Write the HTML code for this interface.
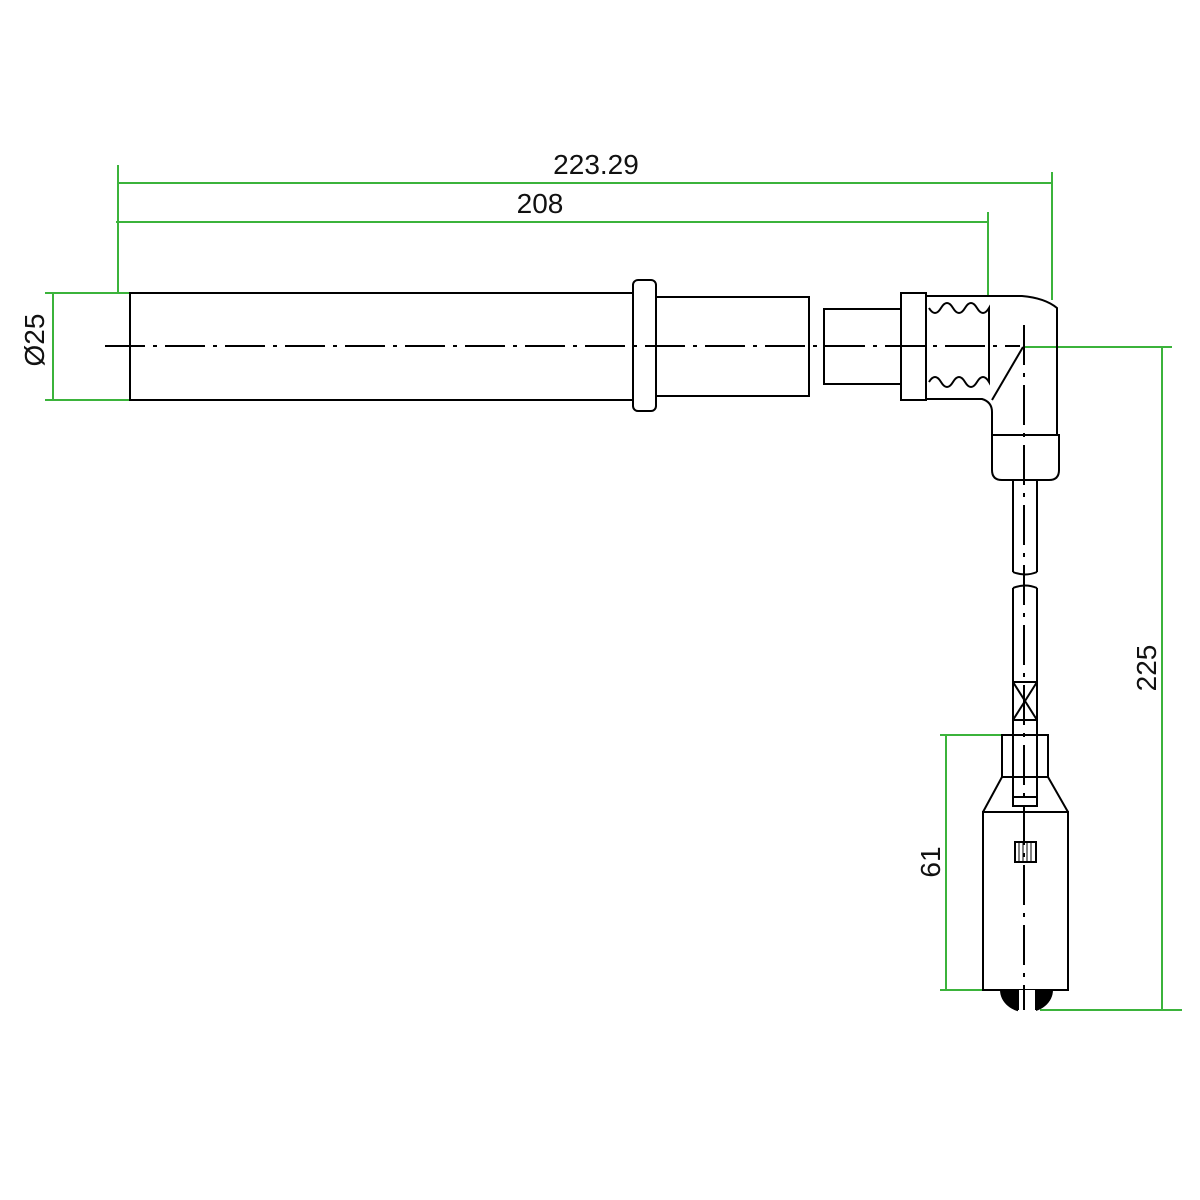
<!DOCTYPE html>
<html><head><meta charset="utf-8"><style>html,body{margin:0;padding:0;background:#fff}svg{display:block}</style></head>
<body>
<svg width="1200" height="1200" viewBox="0 0 1200 1200" xmlns="http://www.w3.org/2000/svg">
<g stroke="#3bb33b" stroke-width="2" fill="none">
<line x1="118" y1="165" x2="118" y2="293"/>
<line x1="1052" y1="172" x2="1052" y2="300"/>
<line x1="118" y1="183" x2="1052" y2="183"/>
<line x1="116" y1="222" x2="988" y2="222"/>
<line x1="988" y1="212" x2="988" y2="296"/>
<line x1="53" y1="293" x2="53" y2="400"/>
<line x1="45" y1="293" x2="130" y2="293"/>
<line x1="45" y1="400" x2="130" y2="400"/>
<line x1="1162" y1="347" x2="1162" y2="1010"/>
<line x1="1025" y1="347" x2="1172" y2="347"/>
<line x1="1040" y1="1010" x2="1182" y2="1010"/>
<line x1="946" y1="735" x2="946" y2="990"/>
<line x1="940" y1="735" x2="1002" y2="735"/>
<line x1="940" y1="990" x2="983" y2="990"/>
</g>
<g font-family="Liberation Sans, sans-serif" font-size="28" fill="#111" text-anchor="middle">
<text x="596" y="174">223.29</text>
<text x="540" y="213">208</text>
<text transform="translate(44,340) rotate(-90)">Ø25</text>
<text transform="translate(1156,668) rotate(-90)">225</text>
<text transform="translate(940,862) rotate(-90)">61</text>
</g>
<g stroke="#000" stroke-width="2" fill="none">
<rect x="130" y="293" width="503" height="107"/>
<rect x="633" y="280" width="23" height="131" rx="5" fill="#fff"/>
<rect x="656" y="297" width="153" height="99"/>
<rect x="824" y="309" width="77" height="75"/>
<rect x="901" y="293" width="25" height="107"/>
<path d="M926 296 H1022 Q1045 298 1057 308 V435"/>
<path d="M926 399 H982 Q992 402 992 412 V435"/>
<path d="M992 400 L1023 347"/>
<path d="M929 308 q6 10 12 0 q6 -10 12 0 q6 10 12 0 q6 -10 12 0 q6 10 12 0 V382 q-6 -10 -12 0 q-6 10 -12 0 q-6 -10 -12 0 q-6 10 -12 0 q-6 -10 -12 0"/>
<path d="M992 435 H1059 V470 Q1059 480 1049 480 H1002 Q992 480 992 470 Z"/>
<line x1="1013" y1="480" x2="1013" y2="572"/>
<line x1="1037" y1="480" x2="1037" y2="572"/>
<path d="M1013 572 q12 5 24 0"/>
<path d="M1013 588 q12 -5 24 0"/>
<line x1="1013" y1="588" x2="1013" y2="735"/>
<line x1="1037" y1="588" x2="1037" y2="735"/>
<rect x="1013" y="682" width="24" height="38"/>
<path d="M1013 682 L1037 720 M1037 682 L1013 720"/>
<rect x="1002" y="735" width="46" height="42"/>
<rect x="1013" y="735" width="24" height="71"/>
<line x1="1013" y1="797" x2="1037" y2="797"/>
<path d="M1002 777 L983 812 M1048 777 L1068 812"/>
<rect x="983" y="812" width="85" height="178"/>
<rect x="1015" y="842" width="21" height="20"/>
<path d="M1019 842 V862 M1023 842 V862 M1027 842 V862 M1031 842 V862" stroke-width="1"/>
</g>
<path d="M1000 990 H1053 A26 22 0 0 1 1000 990 Z" fill="#000"/>
<rect x="1018" y="990" width="18" height="24" fill="#fff"/>
<path d="M1018 990 V1010 M1036 990 V1010" stroke="#000" stroke-width="2"/>
<g stroke="#000" stroke-width="2" stroke-dasharray="40,8,4,8" fill="none">
<line x1="105" y1="346" x2="1020" y2="346"/>
<line x1="1024" y1="325" x2="1024" y2="1010"/>
</g>
</svg>
</body></html>
